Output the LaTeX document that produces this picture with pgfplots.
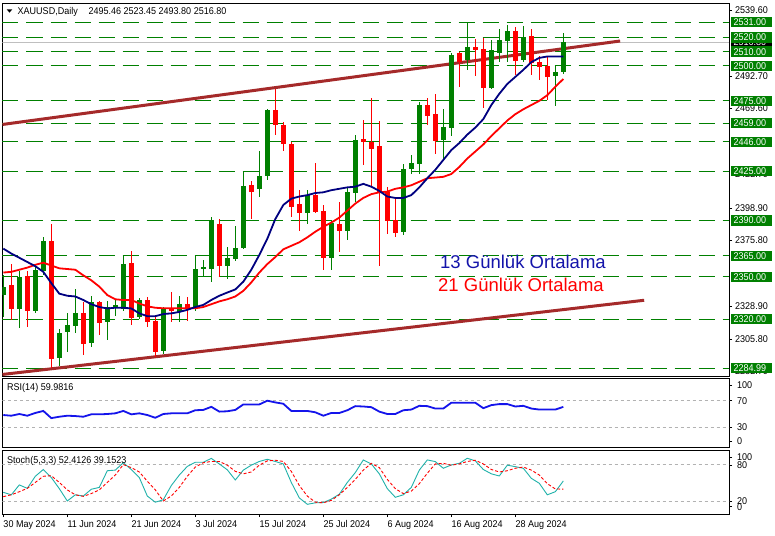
\documentclass[border=0pt]{standalone}
\usepackage{pgfplots}
\pgfplotsset{compat=1.18}
\usepackage{pgfplotstable}
\usepackage{fontspec}
\setmainfont{Liberation Sans}
\newfontfamily\tah[FakeStretch=0.92]{Liberation Sans}
\newcommand\lbl{\tah\fontsize{9.8}{10}\selectfont}
\definecolor{cgreen}{RGB}{0,128,0}
\definecolor{cred}{RGB}{255,0,0}
\definecolor{navyma}{RGB}{0,0,128}
\definecolor{tline}{RGB}{165,42,42}
\definecolor{lsg}{RGB}{32,178,170}
\definecolor{rsiblue}{RGB}{20,20,235}

% bullish candles: index open high low close
\pgfplotstableread{
i o h l c
0 2337 2351.2 2321.4 2342.5
2 2326.9 2354 2313.8 2349.6
4 2325.9 2357.8 2324.5 2354.8
5 2354.3 2378.4 2351.2 2375.3
7 2292.6 2312.9 2286.9 2309.9
8 2311 2324.5 2296.8 2315.5
9 2315 2341.3 2309.9 2324
11 2303.2 2336.5 2300.4 2332
13 2318.1 2332.8 2305.1 2328.3
14 2328.1 2334 2322.3 2329.9
15 2326.9 2364.7 2326 2359
17 2321.2 2334.7 2320 2333.5
20 2297.5 2328.3 2295.2 2327.1
22 2325.2 2336.5 2317.7 2330.4
24 2327.1 2364.7 2325.5 2355.5
25 2355.5 2362 2350 2356.9
26 2355.5 2392.6 2346.5 2390.2
28 2357.8 2371.3 2348.4 2363
29 2362.3 2386 2361.3 2370.1
30 2370.6 2424.5 2369.6 2414.3
32 2412.4 2439.1 2406.7 2421.4
33 2421.4 2469.4 2419 2468.7
38 2395.4 2411.5 2387.8 2408.4
41 2363.5 2390 2354.5 2388.3
43 2382.6 2413.8 2376 2410.3
44 2409.6 2450.5 2403.2 2447
50 2381.9 2430 2380 2426.8
51 2426.4 2436.3 2423.3 2430.9
52 2430 2474 2422.8 2472.3
55 2447 2469.4 2433.3 2456.4
56 2455.7 2508.9 2449.8 2507.2
58 2503.7 2531.3 2496.6 2513.6
61 2484 2517.9 2483.1 2511.3
62 2508.9 2526.2 2502.5 2517.9
63 2517.4 2529.2 2502.5 2524.3
65 2503.7 2528.5 2502.5 2520.7
69 2492.6 2500.1 2471.1 2495.2
70 2495.46 2523.45 2493.80 2516.80
}\bull

% bearish candles
\pgfplotstableread{
i o h l c
1 2344.1 2359 2319.3 2326.9
3 2350.5 2354 2314.5 2325.9
6 2375.3 2387.4 2285.5 2291.8
10 2324 2332.3 2294.5 2302.3
12 2332 2332.5 2308.7 2317.4
16 2360 2368.2 2315.7 2320.5
18 2333.5 2335.8 2314.5 2318
19 2318.8 2322.8 2293.3 2296.8
21 2327.6 2339.4 2318.1 2325.7
23 2330.4 2335.8 2318.8 2328
27 2387.4 2390.9 2350 2357.8
31 2415 2417.9 2390.7 2410.3
34 2468.2 2483.6 2451 2458.1
35 2458.1 2460 2439.4 2444.6
36 2444.1 2445.7 2392.6 2399.6
37 2401.6 2411.5 2382.6 2395.4
39 2408.4 2431.1 2395.5 2396.1
40 2396.6 2400.9 2354.8 2363.5
42 2387.4 2403.2 2367.7 2382.6
45 2448.2 2461.6 2429.2 2445.7
46 2445.7 2477.2 2413.8 2441.1
47 2443 2461 2358 2410.3
48 2410.3 2413.8 2380.3 2389.7
49 2390.2 2405 2378.4 2381.2
53 2471.8 2477 2457.6 2464
54 2465.9 2479.6 2437 2446.5
57 2508.9 2510 2484.8 2502.5
59 2513.6 2519 2492.3 2511.3
60 2512 2519.5 2469.9 2484
64 2524.3 2527.8 2493.1 2503.2
66 2520.7 2526.2 2493.1 2501.8
67 2502.5 2507.2 2489.5 2498.9
68 2499.4 2506 2475.3 2491.8
}\bear

% 13-day moving average
\pgfplotstableread{
i v
0 2370
1 2366.5
2 2363.5
3 2360.5
4 2357.5
5 2353.5
6 2345.5
7 2338
8 2336.5
9 2336
10 2333.5
11 2330.5
12 2328.5
13 2327.5
14 2328
15 2328
16 2327.5
17 2324
18 2322
19 2322
20 2323.5
21 2324
22 2325
23 2326.5
24 2328.5
25 2330
26 2333.5
27 2336.5
28 2338.8
29 2341
30 2346.5
31 2355
32 2365.5
33 2377
34 2391
35 2401
36 2405.5
37 2407
38 2408
39 2409.5
40 2410
41 2411.5
42 2412.5
43 2413.5
44 2414
45 2416
46 2414
47 2411
48 2407
49 2406
50 2406
51 2408
52 2413.5
53 2420
54 2426
55 2433
56 2440
57 2445
58 2451
59 2456
60 2462
61 2472
62 2480
63 2487
64 2492
65 2497
66 2502.5
67 2505.5
68 2506.5
69 2506.5
70 2506.5
}\maA

% 21-day moving average
\pgfplotstableread{
i v
0 2353
1 2353.5
2 2355
3 2356.5
4 2358.5
5 2360
6 2358
7 2356
8 2355.5
9 2355
10 2351
11 2347.5
12 2343
13 2337
14 2334
15 2333.5
16 2333.5
17 2331
18 2329
19 2328
20 2327.6
21 2327.6
22 2327.6
23 2327.6
24 2327.6
25 2328.5
26 2330.5
27 2332.5
28 2334
29 2336
30 2340
31 2346
32 2353
33 2359
34 2364
35 2369.5
36 2372
37 2374.5
38 2378
39 2382
40 2385.5
41 2388.5
42 2392
43 2397
44 2402
45 2406
46 2408.7
47 2410
48 2410.5
49 2412.5
50 2413.5
51 2415
52 2417.5
53 2420
54 2420.5
55 2421
56 2423
57 2428
58 2434
59 2439
60 2444
61 2450
62 2455.5
63 2461
64 2465.5
65 2469
66 2472
67 2475
68 2479
69 2485
70 2490.5
}\maB

% RSI(14)
\pgfplotstableread{
i v
0 48
1 47
2 49.5
3 47
4 51
5 54
6 43.5
7 45.5
8 47
9 46.5
10 45.5
11 49
12 49
13 49.5
14 50.5
15 54
16 49
17 50.5
18 48
19 44
20 49.5
21 50.5
22 50.5
23 50.5
24 55
25 55.5
26 60
27 53
28 53.5
29 55.5
30 63.5
31 63.5
32 63.5
33 69
34 66.5
35 64.5
36 54
37 54
38 54
39 52
40 47
41 51
42 51
43 55
44 61
45 60.5
46 59.5
47 53
48 49.5
49 49.5
50 55
51 56
52 61.5
53 61
54 57.5
55 57.5
56 66
57 66
58 66
59 66
60 58
61 62.5
62 64
63 64
64 60.5
65 61.5
66 57.5
67 56
68 56
69 56
70 59.98
}\rsi

% Stochastic(5,3,3): main k, signal d
\pgfplotstableread{
i k d
0 34 27
1 30 30
2 46 35
3 40.5 40.5
4 60 50
5 71 60
6 58 61
7 40 50
8 20 38
9 30 30
10 28 27.5
11 39 32
12 42 38
13 69 50
14 70 62
15 82 79
16 71 74
17 58 67
18 28 52
19 18 38
20 22 20
21 45 28
22 62 42
23 76 60
24 82.7 75
25 82.7 82
26 89 84
27 80 84
28 70.5 78
29 54 68
30 70 64
31 78 67
32 84 78
33 87.6 85
34 84 86
35 80 84
36 50 68
37 25 45
38 14.6 28
39 17 18
40 17.5 17
41 23 21
42 31 30
43 50 42
44 66 55
45 86.5 70
46 80 81
47 64 74
48 40 55
49 26 40
50 30 32
51 42 36
52 70 48
53 86.5 65
54 83.8 80
55 73 81
56 78.4 78
57 81 80
58 89.2 84
59 85 86
60 71 80
61 64 71
62 60.5 67
63 78 69
64 75.6 73
65 73 75
66 56.7 70
67 48.6 62
68 30 48
69 35 39.5
70 52.41 39.15
}\stoch

\pgfplotsset{
  mt/.style={
    scale only axis, width=726.5pt, xmin=-0.1, xmax=90.71,
    anchor=south west,
    axis line style={black, line width=0.8pt},
    tick style={black, line width=0.6pt},
    tick align=outside, major tick length=3pt,
    ytick pos=right, yticklabel pos=right,
    yticklabel style={font=\lbl, anchor=west, inner xsep=0pt},
    xtick=\empty,
    /pgf/number format/assume math mode=true,
  },
  candle/.style 2 args={draw=none, mark=none, forget plot,
    error bars/.cd, y dir=both, y explicit, error mark=none,
    error bar style={draw=#1, line width=#2}},
}

\begin{document}
\begin{tikzpicture}
\useasboundingbox (0pt,0pt) rectangle (775pt,535pt);
\fill[white] (0pt,0pt) rectangle (775pt,535pt);

% labels hidden under the level boxes (drawn first)
\node[anchor=west, inner xsep=0pt, font=\lbl] at (735pt,360.6pt) {2422.70};
\node[anchor=west, inner xsep=0pt, font=\lbl] at (735pt,163.5pt) {2282.70};
\node[anchor=west, fill=black, text=white, font=\lbl, inner xsep=2.3pt,
      text height=7pt, text depth=0pt, inner ysep=1.6pt, text width=36pt, align=left]
      at (731pt,493pt) {2516.80};

% ---------- main price panel ----------
\begin{axis}[mt, at={(2.5pt,159pt)}, height=373pt,
  ymin=2279.5, ymax=2544.5,
  ytick={2539.6,2492.7,2469.6,2398.9,2375.8,2328.9,2305.8},
  yticklabels={2539.60,2492.70,2469.60,2398.90,2375.80,2328.90,2305.80},
  yticklabel style={xshift=3pt},
  extra y ticks={2531,2520,2510,2500,2475,2459,2446,2425,2390,2365,2350,2320,2284.99},
  extra y tick labels={2531.00,2520.00,2510.00,2500.00,2475.00,2459.00,2446.00,2425.00,2390.00,2365.00,2350.00,2320.00,2284.99},
  extra y tick style={grid=major,
    major grid style={draw=cgreen, line width=0.9pt, dash pattern=on 16pt off 8pt},
    major tick length=0pt,
    yticklabel style={fill=cgreen, text=white, inner xsep=2.3pt, xshift=-1pt,
      text height=7pt, text depth=0pt, inner ysep=1.6pt, text width=36pt, align=left}},
]
% current price line
\addplot[color=black!25, line width=0.8pt, forget plot] coordinates {(-0.1,2516.8) (90.71,2516.8)};
% trend lines
\addplot[color=tline, line width=3pt, forget plot] coordinates {(-0.1,2458.2) (77.1,2517.5)};
\addplot[color=tline, line width=3pt, forget plot] coordinates {(-0.1,2280.6) (80.1,2333.3)};
% candles: wicks then bodies
\addplot[candle={cgreen}{1pt}] table[x=i, y expr={(\thisrow{h}+\thisrow{l})/2}, y error expr={(\thisrow{h}-\thisrow{l})/2}] {\bull};
\addplot[candle={cgreen}{5pt}] table[x=i, y expr={(\thisrow{o}+\thisrow{c})/2}, y error expr={abs(\thisrow{c}-\thisrow{o})/2}] {\bull};
\addplot[candle={cred}{1pt}] table[x=i, y expr={(\thisrow{h}+\thisrow{l})/2}, y error expr={(\thisrow{h}-\thisrow{l})/2}] {\bear};
\addplot[candle={cred}{5pt}] table[x=i, y expr={(\thisrow{o}+\thisrow{c})/2}, y error expr={abs(\thisrow{c}-\thisrow{o})/2}] {\bear};
% moving averages
\addplot[color=cred, line width=1.8pt, mark=none] table[x=i, y=v] {\maB};
\addplot[color=navyma, line width=1.8pt, mark=none] table[x=i, y=v] {\maA};
\end{axis}

% ---------- RSI panel ----------
\begin{axis}[mt, at={(2.5pt,87.2pt)}, height=69.3pt,
  ymin=0, ymax=101.5,
  ytick={92,69,30,10}, yticklabels={100,70,30,0},
  yticklabel style={xshift=5pt},
]
\addplot[color=black!30, line width=0.7pt, dash pattern=on 3pt off 3pt, forget plot] coordinates {(-0.1,70) (90.71,70)};
\addplot[color=black!30, line width=0.7pt, dash pattern=on 3pt off 3pt, forget plot] coordinates {(-0.1,30) (90.71,30)};
\addplot[color=rsiblue, line width=1.8pt, mark=none] table[x=i, y=v] {\rsi};
\end{axis}

% ---------- Stochastic panel ----------
\begin{axis}[mt, at={(2.5pt,21pt)}, height=63.7pt,
  ymin=-1.1, ymax=102.1,
  ytick={90.8,78.3,20,10.7}, yticklabels={100,80,20,0},
  yticklabel style={xshift=5pt},
  xtick={0,8,16,24,32,40,48,56,64},
  xticklabels={30 May 2024,11 Jun 2024,21 Jun 2024,3 Jul 2024,15 Jul 2024,25 Jul 2024,6 Aug 2024,16 Aug 2024,28 Aug 2024},
  xtick pos=bottom,
  xticklabel style={font=\lbl, anchor=north west, inner sep=0pt, yshift=-3pt},
]
\addplot[color=black!30, line width=0.7pt, dash pattern=on 3pt off 3pt, forget plot] coordinates {(-0.1,80) (90.71,80)};
\addplot[color=black!30, line width=0.7pt, dash pattern=on 3pt off 3pt, forget plot] coordinates {(-0.1,20) (90.71,20)};
\addplot[color=lsg, line width=0.9pt, mark=none] table[x=i, y=k] {\stoch};
\addplot[color=cred, line width=0.9pt, dash pattern=on 3pt off 2pt, mark=none] table[x=i, y=d] {\stoch};
\end{axis}

% ---------- texts ----------
\fill (6.7pt,525.7pt) -- (12.3pt,525.7pt) -- (9.5pt,522.3pt) -- cycle;
\node[anchor=base west, inner sep=0pt, font=\lbl] at (17.5pt,520.5pt) {XAUUSD,Daily};
\node[anchor=base west, inner sep=0pt, font=\lbl] at (88.3pt,520.5pt) {2495.46 2523.45 2493.80 2516.80};
\node[anchor=base west, inner sep=0pt, font=\lbl] at (7pt,144pt) {RSI(14) 59.9816};
\node[anchor=base west, inner sep=0pt, font=\lbl] at (7pt,72pt) {Stoch(5,3,3) 52.4126 39.1523};
\node[anchor=base west, inner sep=0pt, text={rgb,255:red,20;green,20;blue,170}, font=\fontsize{18.5}{20}\selectfont] at (440pt,266pt) {13 Günlük Ortalama};
\node[anchor=base west, inner sep=0pt, text=cred, font=\fontsize{18.5}{20}\selectfont] at (438pt,243pt) {21 Günlük Ortalama};
\end{tikzpicture}
\end{document}
